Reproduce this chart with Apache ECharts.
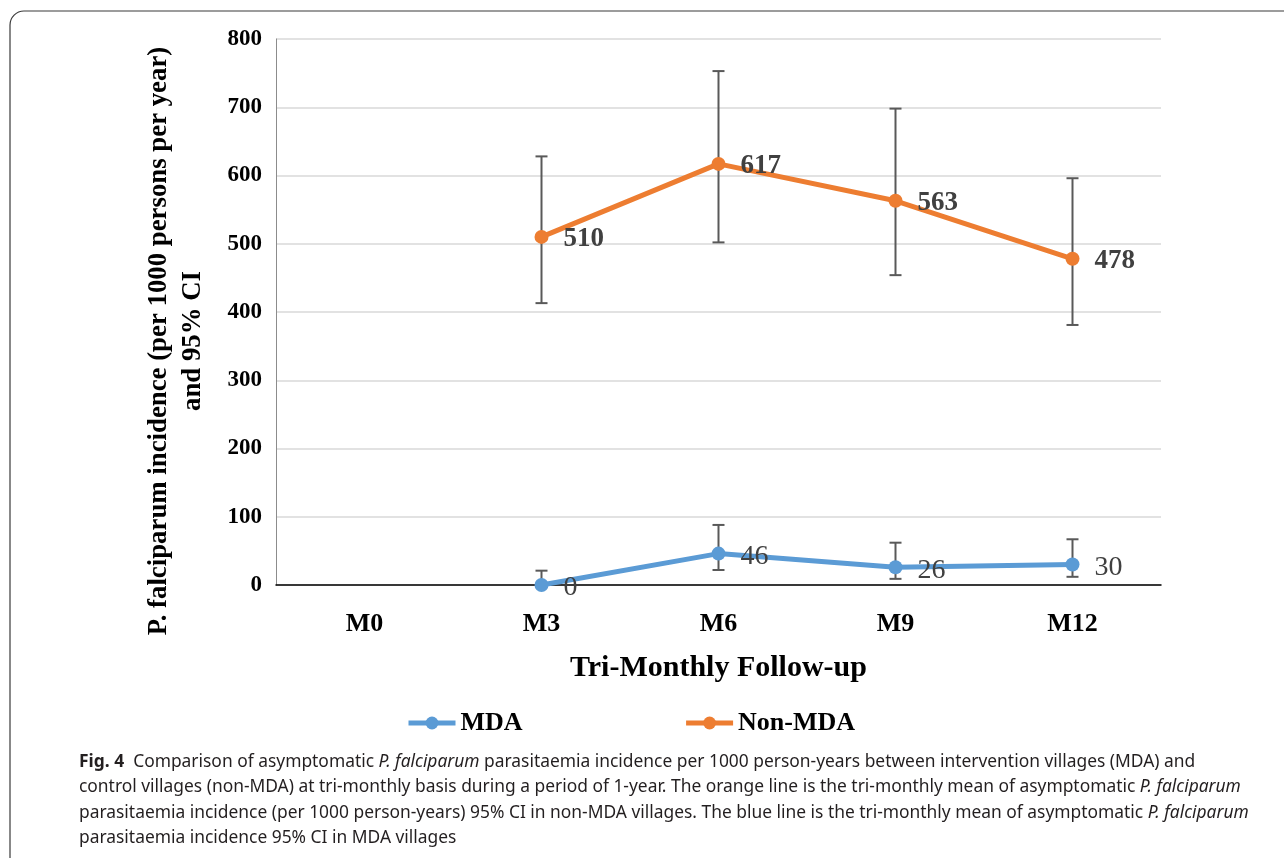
<!DOCTYPE html>
<html>
<head>
<meta charset="utf-8">
<script src="https://cdn.jsdelivr.net/npm/echarts@6/dist/echarts.min.js"></script>
<style>
html,body{margin:0;padding:0;background:#fff;}
#chart{width:1284px;height:858px;}
</style>
</head>
<body>
<div id="chart"></div>
<script>
const categories = ['M0', 'M3', 'M6', 'M9', 'M12'];
const mdaValues = ['-', 0, 46, 26, 30];
const nonMdaValues = ['-', 510, 617, 563, 478];
const mdaLow = ['-', 0, 22, 9, 12];
const mdaHigh = ['-', 21, 88, 62, 67];
const nonMdaLow = ['-', 413, 502, 454, 381];
const nonMdaHigh = ['-', 628, 753, 698, 596];
const yTicks = [0, 100, 200, 300, 400, 500, 600, 700, 800];

const serif = '"Liberation Serif", "Times New Roman", serif';
const sans = '"Noto Sans", "Open Sans", sans-serif';

function errData(low, high) {
  const out = [];
  for (let i = 0; i < categories.length; i++) {
    if (low[i] === '-' || high[i] === '-') continue;
    out.push([i, low[i], high[i]]);
  }
  return out;
}

function renderErr(params, api) {
  const idx = api.value(0);
  const lo = api.coord([idx, api.value(1)]);
  const hi = api.coord([idx, api.value(2)]);
  const cap = 6;
  const st = { stroke: '#595959', lineWidth: 2 };
  return {
    type: 'group',
    children: [
      { type: 'line', shape: { x1: lo[0], y1: lo[1], x2: hi[0], y2: hi[1] }, style: st },
      { type: 'line', shape: { x1: hi[0] - cap, y1: hi[1], x2: hi[0] + cap, y2: hi[1] }, style: st },
      { type: 'line', shape: { x1: lo[0] - cap, y1: lo[1], x2: lo[0] + cap, y2: lo[1] }, style: st }
    ]
  };
}

const chart = echarts.init(document.getElementById('chart'), null, { renderer: 'canvas' });

const captionLines = [
  '{b|Fig. 4}  Comparison of asymptomatic {i|P. falciparum} parasitaemia incidence per 1000 person-years between intervention villages (MDA) and',
  'control villages (non-MDA) at tri-monthly basis during a period of 1-year. The orange line is the tri-monthly mean of asymptomatic {i|P. falciparum}',
  'parasitaemia incidence (per 1000 person-years) 95% CI in non-MDA villages. The blue line is the tri-monthly mean of asymptomatic {i|P. falciparum}',
  'parasitaemia incidence 95% CI in MDA villages'
];

const capSize = 17.4;

const option = {
  backgroundColor: '#ffffff',
  animation: false,
  grid: { left: 276, right: 123, top: 39, bottom: 273, containLabel: false },
  legend: {
    left: 401,
    top: 705,
    itemWidth: 47,
    itemHeight: 16,
    itemGap: 161,
    lineStyle: { width: 5 },
    textStyle: { fontFamily: serif, fontWeight: 'bold', fontSize: 26, color: '#000' },
    data: ['MDA', 'Non-MDA']
  },
  xAxis: {
    type: 'category',
    data: categories,
    boundaryGap: true,
    axisLine: { show: true, lineStyle: { color: '#000', width: 1.5 } },
    axisTick: { show: false },
    axisLabel: { fontFamily: serif, fontWeight: 'bold', fontSize: 26, color: '#000', margin: 26 },
    name: 'Tri-Monthly Follow-up',
    nameLocation: 'middle',
    nameGap: 68,
    nameTextStyle: { fontFamily: serif, fontWeight: 'bold', fontSize: 30, color: '#000' }
  },
  yAxis: {
    type: 'value',
    min: yTicks[0],
    max: yTicks[yTicks.length - 1],
    interval: 100,
    axisLine: { show: true, lineStyle: { color: '#8c8c8c', width: 1 } },
    axisTick: { show: false },
    splitLine: { show: true, lineStyle: { color: '#d9d9d9', width: 1.5 } },
    axisLabel: { fontFamily: serif, fontWeight: 'bold', fontSize: 23, color: '#000', margin: 14 }
  },
  graphic: [
    {
      type: 'rect',
      z: -10,
      shape: { x: 10, y: 11, width: 1400, height: 1000, r: 14 },
      style: { fill: 'none', stroke: '#3a3a3a', lineWidth: 1.2 }
    },
    {
      type: 'text',
      x: 176,
      y: 341,
      rotation: Math.PI / 2,
      style: {
        text: 'P. falciparum incidence (per 1000 persons per year)\nand 95% CI',
        fontFamily: serif,
        fontWeight: 'bold',
        fontSize: 26.8,
        lineHeight: 34,
        fill: '#000',
        align: 'center',
        verticalAlign: 'middle'
      }
    },
    {
      type: 'text',
      x: 79,
      y: 749,
      style: {
        text: captionLines.join('\n'),
        fontFamily: sans,
        fontSize: capSize,
        lineHeight: 25.5,
        fill: '#231f20',
        rich: {
          b: { fontFamily: sans, fontWeight: 'bold', fontSize: capSize, fill: '#231f20' },
          i: { fontFamily: sans, fontStyle: 'italic', fontSize: capSize, fill: '#231f20' }
        }
      }
    }
  ],
  series: [
    {
      name: 'MDA-CI',
      type: 'custom',
      renderItem: renderErr,
      data: errData(mdaLow, mdaHigh),
      z: 1,
      silent: true
    },
    {
      name: 'Non-MDA-CI',
      type: 'custom',
      renderItem: renderErr,
      data: errData(nonMdaLow, nonMdaHigh),
      z: 1,
      silent: true
    },
    {
      name: 'MDA',
      type: 'line',
      data: mdaValues,
      z: 3,
      color: '#5b9bd5',
      symbol: 'circle',
      symbolSize: 14,
      lineStyle: { width: 5, color: '#5b9bd5' },
      itemStyle: { color: '#5b9bd5' },
      label: {
        show: true,
        position: 'right',
        distance: 15,
        offset: [0, 3],
        fontFamily: serif,
        fontSize: 28,
        color: '#404040'
      }
    },
    {
      name: 'Non-MDA',
      type: 'line',
      data: nonMdaValues,
      z: 3,
      color: '#ed7d31',
      symbol: 'circle',
      symbolSize: 14,
      lineStyle: { width: 5, color: '#ed7d31' },
      itemStyle: { color: '#ed7d31' },
      label: {
        show: true,
        position: 'right',
        distance: 15,
        offset: [0, 2],
        fontFamily: serif,
        fontWeight: 'bold',
        fontSize: 27,
        color: '#404040'
      }
    }
  ]
};

chart.setOption(option);
</script>
</body>
</html>
